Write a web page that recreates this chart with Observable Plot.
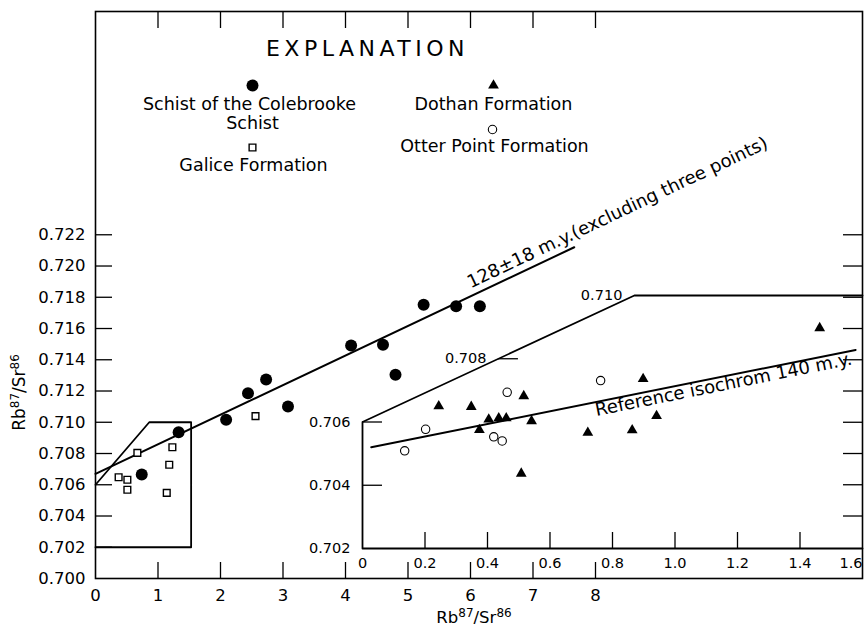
<!DOCTYPE html>
<html>
<head>
<meta charset="utf-8">
<script src="https://cdn.jsdelivr.net/npm/d3@7"></script>
<script src="https://cdn.jsdelivr.net/npm/@observablehq/plot@0.6"></script>
<style>
  html, body { margin: 0; padding: 0; background: #fff; }
  #chart { position: relative; width: 864px; height: 629px; }
  #chart svg { position: absolute; left: 0; top: 0; }
</style>
</head>
<body>
<div id="chart"></div>
<script>
// ---------- Main diagram data ----------
// Schist of the Colebrooke Schist (filled circles)
const colebrookeX = [0.74, 1.33, 2.09, 2.44, 2.73, 3.08, 4.09, 4.60, 4.80, 5.25, 5.77, 6.15];
const colebrookeY = [0.70666, 0.70936, 0.71016, 0.71186, 0.71274, 0.71101, 0.71491, 0.71496, 0.71304, 0.71752, 0.71743, 0.71743];
// Galice Formation (open squares)
const galiceX = [0.37, 0.51, 0.51, 0.67, 1.23, 1.18, 1.14, 2.56];
const galiceY = [0.70648, 0.70632, 0.70568, 0.70804, 0.70840, 0.70728, 0.70548, 0.71039];
// 128 ± 18 m.y. isochron
const isoMainX = [0, 7.66];
const isoMainY = [0.7067, 0.7212];
// outline of the enlarged area
const boxMainX = [0, 0.86, 1.53, 1.53, 0];
const boxMainY = [0.706, 0.710, 0.710, 0.702, 0.702];
const mainXTicks = [0, 1, 2, 3, 4, 5, 6, 7, 8];
const mainYTicks = [0.700, 0.702, 0.704, 0.706, 0.708, 0.710, 0.712, 0.714, 0.716, 0.718, 0.720, 0.722];

// ---------- Inset (enlarged) data ----------
// Dothan Formation (filled triangles)
const dothanX = [0.244, 0.348, 0.374, 0.404, 0.436, 0.460, 0.516, 0.541, 0.508, 0.721, 0.863, 0.898, 0.941, 1.463];
const dothanY = [0.70650, 0.70648, 0.70575, 0.70608, 0.70612, 0.70612, 0.70682, 0.70603, 0.70437, 0.70566, 0.70574, 0.70736, 0.70619, 0.70897];
// Otter Point Formation (open circles)
const otterX = [0.135, 0.202, 0.420, 0.447, 0.463, 0.762];
const otterY = [0.70509, 0.70577, 0.70553, 0.70540, 0.70694, 0.70731];
// Reference isochron 140 m.y.
const isoRefX = [0.028, 1.578];
const isoRefY = [0.70520, 0.70828];
// inset outline
const boxInsetX = [1.6, 0, 0, 0.87, 1.6];
const boxInsetY = [0.702, 0.702, 0.706, 0.710, 0.710];
const insetXTicks = [0, 0.2, 0.4, 0.6, 0.8, 1.0, 1.2, 1.4, 1.6];
const insetYTicks = [0.702, 0.704, 0.706, 0.708, 0.710];

// ---------- helpers ----------
const zip = (xs, ys) => xs.map((x, i) => ({x, y: ys[i]}));
const font = "'DejaVu Sans', sans-serif";
const W = 864, H = 629;
const baseStyle = {fontFamily: font, fontSize: "16px", color: "black", background: "transparent", overflow: "visible"};
const fmt3 = d3.format(".3f");
const lineAt = (xs, ys) => d3.scaleLinear().domain(xs).range(ys);
const isoMainFn = lineAt(isoMainX, isoMainY);
const isoRefFn = lineAt(isoRefX, isoRefY);
const edgeX = d3.scaleLinear().domain([boxInsetY[2], boxInsetY[3]]).range([boxInsetX[2], boxInsetX[3]]).clamp(true);
const AXIS_TITLE = "Rb87/Sr86";

const legend = (txt, dx, dy, opts = {}) =>
  Plot.text([txt], {frameAnchor: "top-left", dx, dy, fontSize: 17.5, textAnchor: "middle", lineAnchor: "middle", ...opts});

// ---------- main plot ----------
const main = Plot.plot({
  width: W, height: H,
  marginLeft: 95, marginRight: 2, marginTop: 11, marginBottom: 51,
  x: {domain: [0, 12.272], label: null},
  y: {domain: [0.700, 0.73629], label: null},
  style: baseStyle,
  marks: [
    Plot.frame({strokeWidth: 1.6}),
    // inward ticks
    Plot.tickY(mainYTicks.filter(d => d > 0.7001), {y: d => d, insetRight: 750, strokeWidth: 1.3}),
    Plot.tickY(mainYTicks.filter(d => d > 0.7031), {y: d => d, insetLeft: 748, strokeWidth: 1.3}),
    Plot.tickX(mainXTicks.filter(d => d > 0), {x: d => d, insetBottom: 550, strokeWidth: 1.3}),
    Plot.tickX(mainXTicks.filter(d => d > 0), {x: d => d, insetTop: 551, strokeWidth: 1.3}),
    Plot.axisY(mainYTicks, {tickSize: 0, tickPadding: 10, tickFormat: fmt3, fontSize: 16.5, label: null}),
    Plot.axisX(mainXTicks, {tickSize: 0, tickPadding: 11, fontSize: 16.5, label: null}),
    // enlarged area outline
    Plot.line(zip(boxMainX, boxMainY), {x: "x", y: "y", strokeWidth: 1.8}),
    // isochron
    Plot.line(zip(isoMainX, isoMainY), {x: "x", y: "y", strokeWidth: 2}),
    Plot.text([{x: 5.93, y: isoMainFn(5.93)}], {x: "x", y: "y", text: () => "128±18 m.y.(excluding three points)",
      rotate: -25.3, textAnchor: "start", lineAnchor: "bottom", dx: 4.5, dy: -10, fontSize: 18}),
    // data
    Plot.dot(zip(galiceX, galiceY), {x: "x", y: "y", symbol: "square", r: 3.8, fill: "white", stroke: "black", strokeWidth: 1.4}),
    Plot.dot(zip(colebrookeX, colebrookeY), {x: "x", y: "y", r: 6, fill: "black", stroke: "none"}),
    // explanation
    legend("EXPLANATION", 272, 37, {fontSize: 22}),
    Plot.dot([0], {frameAnchor: "top-left", dx: 157, dy: 74, r: 6, fill: "black", stroke: "none"}),
    legend("Schist of the Colebrooke", 154, 93),
    legend("Schist", 157, 112),
    Plot.dot([0], {frameAnchor: "top-left", dx: 157, dy: 136, symbol: "square", r: 3.8, fill: "white", stroke: "black", strokeWidth: 1.4}),
    legend("Galice Formation", 158, 154),
    Plot.dot([0], {frameAnchor: "top-left", dx: 398, dy: 74, symbol: "triangle", r: 4, fill: "black", stroke: "none"}),
    legend("Dothan Formation", 398, 93),
    Plot.dot([0], {frameAnchor: "top-left", dx: 397, dy: 118, r: 4.2, fill: "white", stroke: "black", strokeWidth: 1.1}),
    legend("Otter Point Formation", 399, 135),
    // axis titles
    Plot.text([AXIS_TITLE], {frameAnchor: "left", dx: -76, dy: 97.5, rotate: -90, fontSize: 17,
      textAnchor: "middle", lineAnchor: "middle"}),
    Plot.text([AXIS_TITLE], {frameAnchor: "bottom", dx: -5, dy: 39, fontSize: 16.5,
      textAnchor: "middle", lineAnchor: "middle"})
  ]
});

// ---------- inset plot ----------
const insetTickLen = 0.064;
const inset = Plot.plot({
  width: W, height: H,
  marginLeft: 362, marginRight: 2, marginTop: 295, marginBottom: 81,
  x: {domain: [0, 1.6], label: null},
  y: {domain: [0.702, 0.710], label: null, axis: null},
  style: baseStyle,
  marks: [
    Plot.line(zip(boxInsetX, boxInsetY), {x: "x", y: "y", strokeWidth: 1.8}),
    Plot.tickX(insetXTicks.filter(d => d > 0 && d < 1.6), {x: d => d, insetTop: 237, strokeWidth: 1.3}),
    Plot.axisX(insetXTicks.slice(0, -1), {tickSize: 0, tickPadding: 9, fontSize: 14.5, label: null,
      tickFormat: d => d === 0 ? "0" : d3.format(".1f")(d)}),
    Plot.axisX(insetXTicks.slice(-1), {tickSize: 0, tickPadding: 9, fontSize: 14.5, label: null, textAnchor: "end",
      tickFormat: d => d3.format(".1f")(d)}),
    Plot.ruleY(insetYTicks.filter(d => d > 0.7021 && d < 0.7099), {y: d => d, x1: d => edgeX(d), x2: d => edgeX(d) + insetTickLen, strokeWidth: 1.3}),
    Plot.text(insetYTicks, {x: d => edgeX(d), y: d => d, text: d => fmt3(d), textAnchor: "end", dx: -12, fontSize: 14.5}),
    // reference isochron
    Plot.line(zip(isoRefX, isoRefY), {x: "x", y: "y", strokeWidth: 2}),
    Plot.text([{x: 0.741, y: isoRefFn(0.741)}], {x: "x", y: "y", text: () => "Reference isochrom 140 m.y.",
      rotate: -11.4, textAnchor: "start", lineAnchor: "top", dy: 1, fontSize: 18}),
    // data
    Plot.dot(zip(otterX, otterY), {x: "x", y: "y", r: 4.2, fill: "white", stroke: "black", strokeWidth: 1.1}),
    Plot.dot(zip(dothanX, dothanY), {x: "x", y: "y", symbol: "triangle", r: 4, fill: "black", stroke: "none"})
  ]
});

const chart = document.getElementById("chart");
chart.appendChild(main);
chart.appendChild(inset);
const svgMain = d3.select(main);
svgMain.selectAll("text").filter(function() { return this.textContent === "EXPLANATION"; })
  .attr("letter-spacing", 4.5);
// superscripts in the axis titles
svgMain.selectAll("text").filter(function() { return this.textContent === AXIS_TITLE; })
  .each(function() {
    const t = d3.select(this);
    t.text(null);
    t.append("tspan").text("Rb");
    t.append("tspan").attr("dy", -6).attr("font-size", 12).text("87");
    t.append("tspan").attr("dy", 6).text("/Sr");
    t.append("tspan").attr("dy", -6).attr("font-size", 12).text("86");
  });
</script>
</body>
</html>
